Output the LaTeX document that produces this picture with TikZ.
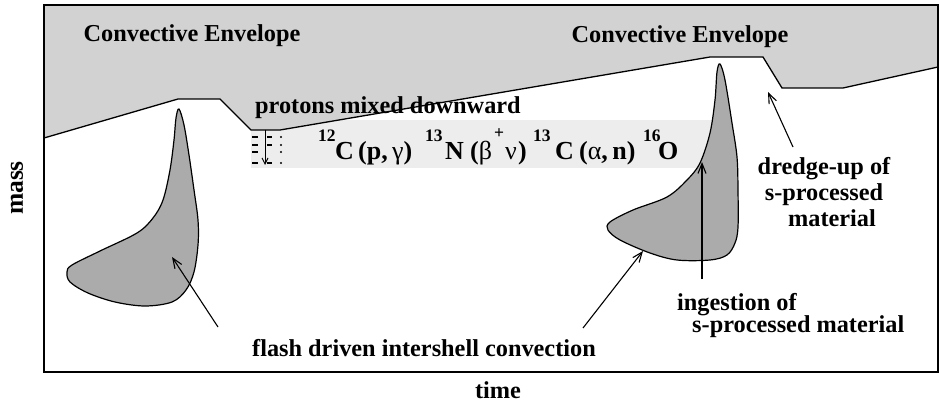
\documentclass[tikz,border=0pt]{standalone}
\usepackage{fontspec}
\setmainfont{Liberation Serif}
\usetikzlibrary{arrows.meta}
\definecolor{envgray}{HTML}{D2D2D2}
\definecolor{bandgray}{HTML}{EDEDED}
\definecolor{pocketgray}{HTML}{ABABAB}
\begin{document}
\begin{tikzpicture}[x=1pt,y=-1pt,
  lbl/.style={font=\fontsize{24.3}{26}\selectfont\bfseries, inner sep=0pt, anchor=base},
  rx/.style={font=\fontsize{26}{28}\selectfont\bfseries, inner sep=0pt, anchor=base west},
  gx/.style={font=\fontsize{26}{28}\selectfont, inner sep=0pt, anchor=base west},
  sx/.style={font=\fontsize{17.5}{19}\selectfont\bfseries, inner sep=0pt, anchor=base west},
  ptr/.style={-{Straight Barb[length=10pt,width=8pt]}, line width=1.1pt},
  bline/.style={line width=1.3pt},
  pocket/.style={fill=pocketgray, draw=black, line width=1.2pt}
]
\useasboundingbox (0,0) rectangle (940,406);
% light band behind reaction chain
\fill[bandgray] (251,120) rectangle (712,168);
% convective envelope
\fill[envgray] (44,5) -- (938,5) -- (938,67) -- (843,88) -- (782,88) -- (763,57) -- (710,57)
  -- (280,130) -- (251,130) -- (220,99) -- (178,99) -- (44,138) -- cycle;
\draw[bline] (44,138) -- (178,99) -- (220,99) -- (251,130) -- (280,130) -- (710,57)
  -- (763,57) -- (782,88) -- (843,88) -- (938,67);
% frame
\draw[bline] (44,5) rectangle (938,372);
% pockets
\draw[pocket] plot[smooth cycle, tension=0.55] coordinates {
  (179,109) (184,125) (189,155) (194,190) (198,220) (198,245) (194,272) (186,290)
  (172,302) (145,306) (115,302) (88,293) (70,282) (67,272) (72,265) (100,251)
  (137,233) (153,218) (163,200) (170,170) (174,140) (176,118)};
\draw[pocket] plot[smooth cycle, tension=0.55] coordinates {
  (720,64) (725,80) (732,123) (737,157) (738,190) (738,227) (735,243) (727,255)
  (710,260) (677,260) (650,253) (620,240) (608,230) (610,222) (633,210) (667,197)
  (687,180) (700,163) (710,133) (715,100) (717,72)};
% labels
\node[lbl] (envL) at (192,42) {Convective Envelope};
\node[lbl] (envR) at (680,43) {Convective Envelope};
\node[lbl, anchor=base west] (prot) at (255,114) {protons mixed downward};
\node[lbl, anchor=base west] (flash) at (252,356) {flash driven intershell convection};
\node[lbl, anchor=base west] (ing1) at (677,310) {ingestion of};
\node[lbl, anchor=base west] (ing2) at (692,332) {s-processed material};
\node[lbl] (dr1) at (824,175) {dredge-up of};
\node[lbl] (dr2) at (824,201) {s-processed};
\node[lbl] (dr3) at (832,227) {material};
\node[lbl] (time) at (498,398) {time};
\node[lbl, rotate=90, font=\fontsize{25.5}{27}\selectfont\bfseries] (mass) at (23,188) {mass};
% reaction chain
\node[sx] (s12) at (318,142) {12};
\node[rx] (c1) at (335,160) {C};
\node[rx] (pg) at (358,160) {(p,\,\textmd{γ})};
\node[sx] (s13a) at (425,142) {13};
\node[rx] (n1) at (445,160) {N};
\node[rx] (bv1) at (470,160) {(\textmd{β}};
\node[sx] (plus) at (494,139) {+};
\node[gx] (nu) at (505,160) {ν};
\node[rx] (bv2) at (518,160) {)};
\node[sx] (s13b) at (533,142) {13};
\node[rx] (c2) at (555,160) {C};
\node[rx] (an) at (579,160) {(\textmd{α},\,n)};
\node[sx] (s16) at (643,142) {16};
\node[rx] (o1) at (658,160) {O};
% protons arrow and mixing marks
\coordinate (pa) at (265,130);
\coordinate (pb) at (265,165);
\draw[-{Straight Barb[length=6pt,width=6pt]}, line width=1pt] (pa) -- (pb);
\foreach \yy in {137,145,152,163} {
  \draw[line width=1.1pt] (252,\yy) -- (258,\yy);
  \fill (281,\yy) circle (1.1pt);
}
\foreach \yy in {137,145,163} \draw[line width=1.1pt] (267,\yy) -- (272,\yy);
% arrows
\coordinate (a1t) at (218,327); \coordinate (a1h) at (172,257);
\coordinate (a2t) at (583,328); \coordinate (a2h) at (643,251);
\coordinate (a3t) at (702,279); \coordinate (a3h) at (702,162);
\coordinate (a4t) at (793,147); \coordinate (a4h) at (768,92);
\draw[ptr] (a1t) -- (a1h);
\draw[ptr] (a2t) -- (a2h);
\draw[ptr] (a3t) -- (a3h);
\draw[ptr] (a4t) -- (a4h);
\end{tikzpicture}
\end{document}
